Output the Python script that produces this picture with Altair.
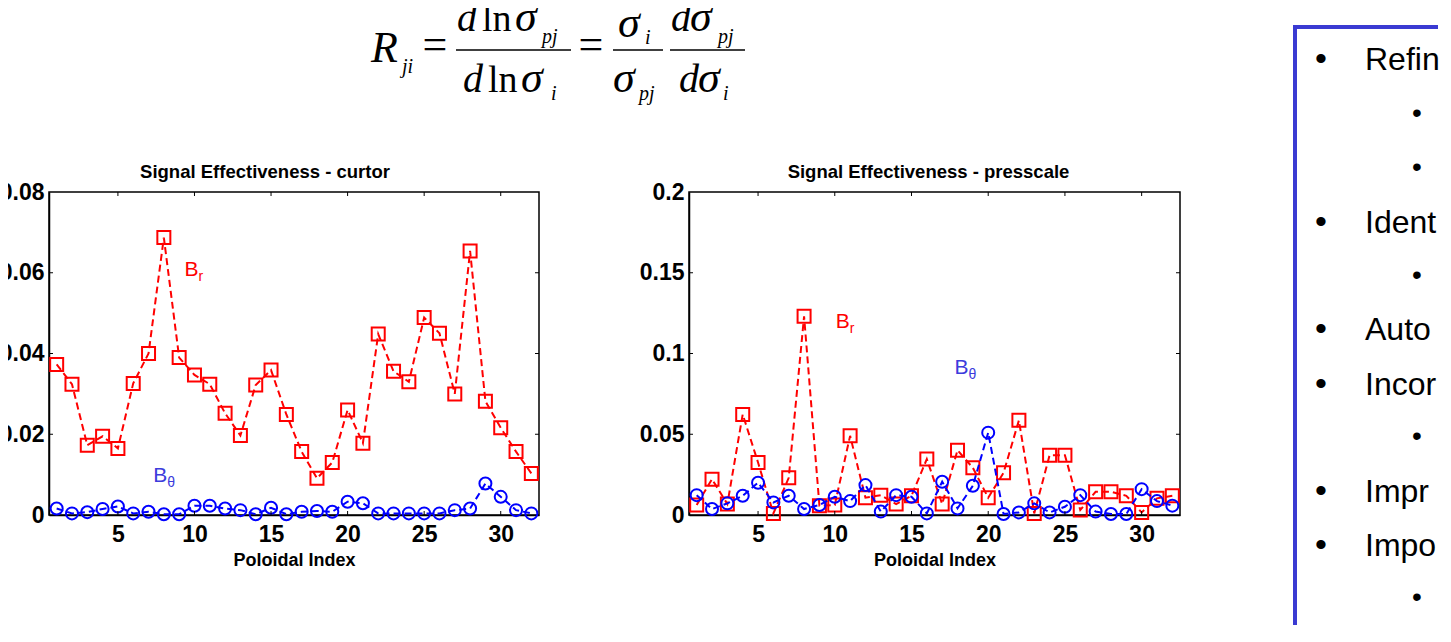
import altair as alt
import pandas as pd

# ---------------- data ----------------
poloidal_index = list(range(1, 33))
curtor_br = [0.0373, 0.0324, 0.0173, 0.0195, 0.0165, 0.0326, 0.0400, 0.0687,
             0.0390, 0.0347, 0.0324, 0.0252, 0.0197, 0.0322, 0.0359, 0.0249,
             0.0157, 0.0091, 0.0130, 0.0260, 0.0178, 0.0448, 0.0356, 0.0330,
             0.0489, 0.0450, 0.0300, 0.0654, 0.0282, 0.0216, 0.0157, 0.0103]
curtor_btheta = [0.0016, 0.0004, 0.0007, 0.0015, 0.0021, 0.0004, 0.0008, 0.0002,
                 0.0002, 0.0023, 0.0023, 0.0016, 0.0012, 0.0002, 0.0018, 0.0002,
                 0.0008, 0.0010, 0.0008, 0.0033, 0.0029, 0.0004, 0.0004, 0.0004,
                 0.0004, 0.0004, 0.0012, 0.0016, 0.0078, 0.0045, 0.0012, 0.0004]
presscale_br = [0.0062, 0.0222, 0.0068, 0.0623, 0.0325, 0.0010, 0.0230, 0.1230,
                0.0058, 0.0062, 0.0490, 0.0107, 0.0123, 0.0068, 0.0119, 0.0346,
                0.0068, 0.0401, 0.0292, 0.0107, 0.0261, 0.0586, 0.0010, 0.0370,
                0.0370, 0.0031, 0.0144, 0.0144, 0.0119, 0.0016, 0.0103, 0.0119]
presscale_btheta = [0.0123, 0.0037, 0.0072, 0.0119, 0.0200, 0.0078, 0.0119, 0.0037,
                    0.0062, 0.0113, 0.0086, 0.0185, 0.0021, 0.0123, 0.0113, 0.0010,
                    0.0206, 0.0041, 0.0181, 0.0510, 0.0006, 0.0016, 0.0072, 0.0016,
                    0.0051, 0.0123, 0.0021, 0.0006, 0.0006, 0.0160, 0.0086, 0.0058]
x_ticks = [5, 10, 15, 20, 25, 30]
curtor_y_ticks = [0, 0.02, 0.04, 0.06, 0.08]
presscale_y_ticks = [0, 0.05, 0.1, 0.15, 0.2]
curtor_y_max = 0.08
presscale_y_max = 0.2
panel_titles = ["Signal Effectiveness - curtor", "Signal Effectiveness - presscale"]
x_title = "Poloidal Index"
series_main = "B"
series_subs = ["r", "θ"]
sidebar_main_text = ["Refin", "Identi", "Autor", "Incorp", "Impro", "Impos"]

# ---------------- layout / style ----------------
RED = "#ff0000"
BLUE = "#0000ff"
LABEL_BLUE = "#3c3cdc"
BOX_BLUE = "#3a3ad2"
SANS = "Liberation Sans"
SERIF = "Liberation Serif"
PW_L, PW_R, PH, SPACING = 490, 491, 323, 150
PLOT_TOP = 192                                   # page y of plot tops
SIDE_X0 = 49 + PW_L + SPACING + PW_R + SPACING   # page x of sidebar panel
SIDE_W = 108
MARK_OFF = 6                                     # corner marker sits 6px beyond page corner

# annotation positions in data units: (x, y) for "B" of Br and Btheta
label_pos = {
    "curtor": [(9.35, 0.0607), (7.3, 0.0097)],
    "presscale": [(10.07, 0.1195), (17.8, 0.091)],
}

# formula pieces: text, page x, page baseline y, font size, style, align
formula = [
    ("R", 371, 62, 44, "italic", "left"),
    ("ji", 402, 73, 20, "italic", "left"),
    ("=", 435, 59, 44, "normal", "center"),
    ("d", 457, 31, 40, "italic", "left"),
    ("ln", 482, 31, 38, "normal", "left"),
    ("σ", 515, 31, 44, "italic", "left"),
    ("pj", 542, 43, 20, "italic", "left"),
    ("d", 463, 92, 40, "italic", "left"),
    ("ln", 488, 92, 38, "normal", "left"),
    ("σ", 521, 92, 44, "italic", "left"),
    ("i", 551, 100, 20, "italic", "left"),
    ("=", 591, 59, 44, "normal", "center"),
    ("σ", 618, 37, 44, "italic", "left"),
    ("i", 645, 44, 20, "italic", "left"),
    ("σ", 613, 92, 44, "italic", "left"),
    ("pj", 639, 100, 20, "italic", "left"),
    ("d", 671, 31, 40, "italic", "left"),
    ("σ", 690, 31, 44, "italic", "left"),
    ("pj", 718, 43, 20, "italic", "left"),
    ("d", 679, 92, 40, "italic", "left"),
    ("σ", 698, 92, 44, "italic", "left"),
    ("i", 723, 100, 20, "italic", "left"),
]
fraction_bars = [(456, 571, 50), (613, 663, 50), (670, 745, 50)]

sidebar_main_rows = [60, 223, 330, 385, 492, 546]
sidebar_sub_rows = [114, 168, 276, 437, 598]


def one_row():
    return pd.DataFrame({"k": [0]})


def panel(br, bt, ymax, yticks, title, title_dx, labels, width):
    df = pd.DataFrame({"idx": poloidal_index, "br": br, "bt": bt})
    xs = alt.Scale(domain=[0.5, 32.5], nice=False, zero=False)
    ys = alt.Scale(domain=[0, ymax], nice=False, zero=True)
    xax = alt.Axis(values=x_ticks, title=x_title, ticks=False, grid=False,
                   labelFont=SANS, labelFontSize=23, labelFontWeight="bold",
                   labelColor="black", labelPadding=8, labelFlush=False,
                   titleFont=SANS, titleFontSize=18, titleFontWeight="bold",
                   titleColor="black", titlePadding=5,
                   domainColor="black", domainWidth=1.5)
    yax = alt.Axis(values=yticks, format="~g", title=None, ticks=False, grid=False,
                   labelFont=SANS, labelFontSize=23, labelFontWeight="bold",
                   labelColor="black", labelPadding=5, labelFlush=False,
                   labelOverlap=False, domainColor="black", domainWidth=1.5)

    def X(f):
        return alt.X(f, type="quantitative", scale=xs, axis=xax)

    def Y(f):
        return alt.Y(f, type="quantitative", scale=ys, axis=yax)

    base = alt.Chart(df)
    layers = [
        base.mark_line(color=RED, strokeDash=[7, 4], strokeWidth=2).encode(x=X("idx"), y=Y("br")),
        base.mark_point(shape="square", filled=False, color=RED, size=169,
                        strokeWidth=2, opacity=1).encode(x=X("idx"), y=Y("br")),
        base.mark_line(color=BLUE, strokeDash=[7, 4], strokeWidth=2).encode(x=X("idx"), y=Y("bt")),
        base.mark_point(shape="circle", filled=False, color=BLUE, size=144,
                        strokeWidth=2, opacity=1).encode(x=X("idx"), y=Y("bt")),
    ]
    # inner ticks (MATLAB style)
    xt = pd.DataFrame({"v": x_ticks})
    yt = pd.DataFrame({"v": yticks[1:-1]})
    for y0, y1 in [(0, 4), (PH - 4, PH)]:
        layers.append(alt.Chart(xt).mark_rule(color="black", strokeWidth=1).encode(
            x=X("v"), y=alt.value(y0), y2=alt.value(y1)))
    for x0, x1 in [(0, 4), (width - 4, width)]:
        layers.append(alt.Chart(yt).mark_rule(color="black", strokeWidth=1).encode(
            y=Y("v"), x=alt.value(x0), x2=alt.value(x1)))
    # series labels
    for (lx, ly), sub, col in zip(labels, series_subs, [RED, LABEL_BLUE]):
        d = pd.DataFrame({"x": [lx], "y": [ly], "m": [series_main], "s": [sub]})
        layers.append(alt.Chart(d).mark_text(align="left", baseline="middle", font=SANS,
                                             fontSize=21, color=col).encode(
            x=X("x"), y=Y("y"), text="m:N"))
        layers.append(alt.Chart(d).mark_text(align="left", baseline="middle", font=SANS,
                                             fontSize=14, color=col, dx=14, dy=7).encode(
            x=X("x"), y=Y("y"), text="s:N"))
    return alt.layer(*layers).properties(
        width=width, height=PH,
        view=alt.ViewBackground(stroke="black", strokeWidth=1.5),
        title=alt.TitleParams(text=title, font=SANS, fontSize=18.5, fontWeight="bold",
                              color="black", offset=0, dx=title_dx, anchor="middle"),
    )


left = panel(curtor_br, curtor_btheta, curtor_y_max, curtor_y_ticks, panel_titles[0],
             -29, label_pos["curtor"], PW_L)
right = panel(presscale_br, presscale_btheta, presscale_y_max, presscale_y_ticks,
              panel_titles[1], -6, label_pos["presscale"], PW_R)

# ---------------- sidebar panel (also carries the formula) ----------------
sx, sy = SIDE_X0, PLOT_TOP
side_layers = []
for t, px, py, fs, style, align in formula:
    side_layers.append(
        alt.Chart(pd.DataFrame({"t": [t]})).mark_text(
            align=align, baseline="alphabetic", font=SERIF, fontSize=fs,
            fontStyle=style, color="black").encode(
            x=alt.value(px - sx), y=alt.value(py - sy), text="t:N"))
for x0, x1, y in fraction_bars:
    side_layers.append(
        alt.Chart(one_row()).mark_rule(color="black", strokeWidth=1.6).encode(
            x=alt.value(x0 - sx), x2=alt.value(x1 - sx), y=alt.value(y - sy)))
# invisible marker just beyond the page's top-left corner (fixes the page origin)
side_layers.append(
    alt.Chart(one_row()).mark_rule(strokeOpacity=0, strokeWidth=1).encode(
        x=alt.value(-sx - MARK_OFF + 0.5), x2=alt.value(-sx - MARK_OFF + 0.5),
        y=alt.value(-sy - MARK_OFF + 0.5), y2=alt.value(-sy - MARK_OFF + 0.5)))
side_layers += [
    alt.Chart(one_row()).mark_rule(color=BOX_BLUE, strokeWidth=4).encode(
        x=alt.value(1293 - sx), x2=alt.value(1438 - sx), y=alt.value(27 - sy)),
    alt.Chart(one_row()).mark_rule(color=BOX_BLUE, strokeWidth=4).encode(
        x=alt.value(1295 - sx), y=alt.value(25 - sy), y2=alt.value(625 - sy)),
]
main_df = pd.DataFrame({"t": sidebar_main_text,
                        "px": [1365 - sx] * len(sidebar_main_text),
                        "py": [r - sy for r in sidebar_main_rows]})
bul_df = pd.DataFrame({"t": ["•"] * len(sidebar_main_rows),
                       "px": [1321 - sx] * len(sidebar_main_rows),
                       "py": [r - sy for r in sidebar_main_rows]})
sub_df = pd.DataFrame({"t": ["•"] * len(sidebar_sub_rows),
                       "px": [1417 - sx] * len(sidebar_sub_rows),
                       "py": [r - sy for r in sidebar_sub_rows]})
enc = dict(x=alt.X("px:Q", scale=None, axis=None), y=alt.Y("py:Q", scale=None, axis=None),
           text="t:N")
side_layers.append(alt.Chart(main_df).mark_text(
    align="left", baseline="middle", font=SANS, fontSize=32, color="black",
    limit=76, ellipsis="\u200b").encode(**enc))
side_layers.append(alt.Chart(bul_df).mark_text(
    align="center", baseline="middle", font=SANS, fontSize=34, color="black").encode(**enc))
side_layers.append(alt.Chart(sub_df).mark_text(
    align="center", baseline="middle", font=SANS, fontSize=28, color="black").encode(**enc))
side = alt.layer(*side_layers).properties(
    width=SIDE_W, height=PH, view=alt.ViewBackground(stroke=None))

pad = -8 - MARK_OFF
chart = alt.hconcat(left, right, side, spacing=SPACING, bounds="flush").properties(
    padding={"left": pad, "top": pad, "right": 0, "bottom": 0}
).configure_view(stroke=None)

chart.save("out.html", embed_options={"renderer": "svg", "actions": False})
